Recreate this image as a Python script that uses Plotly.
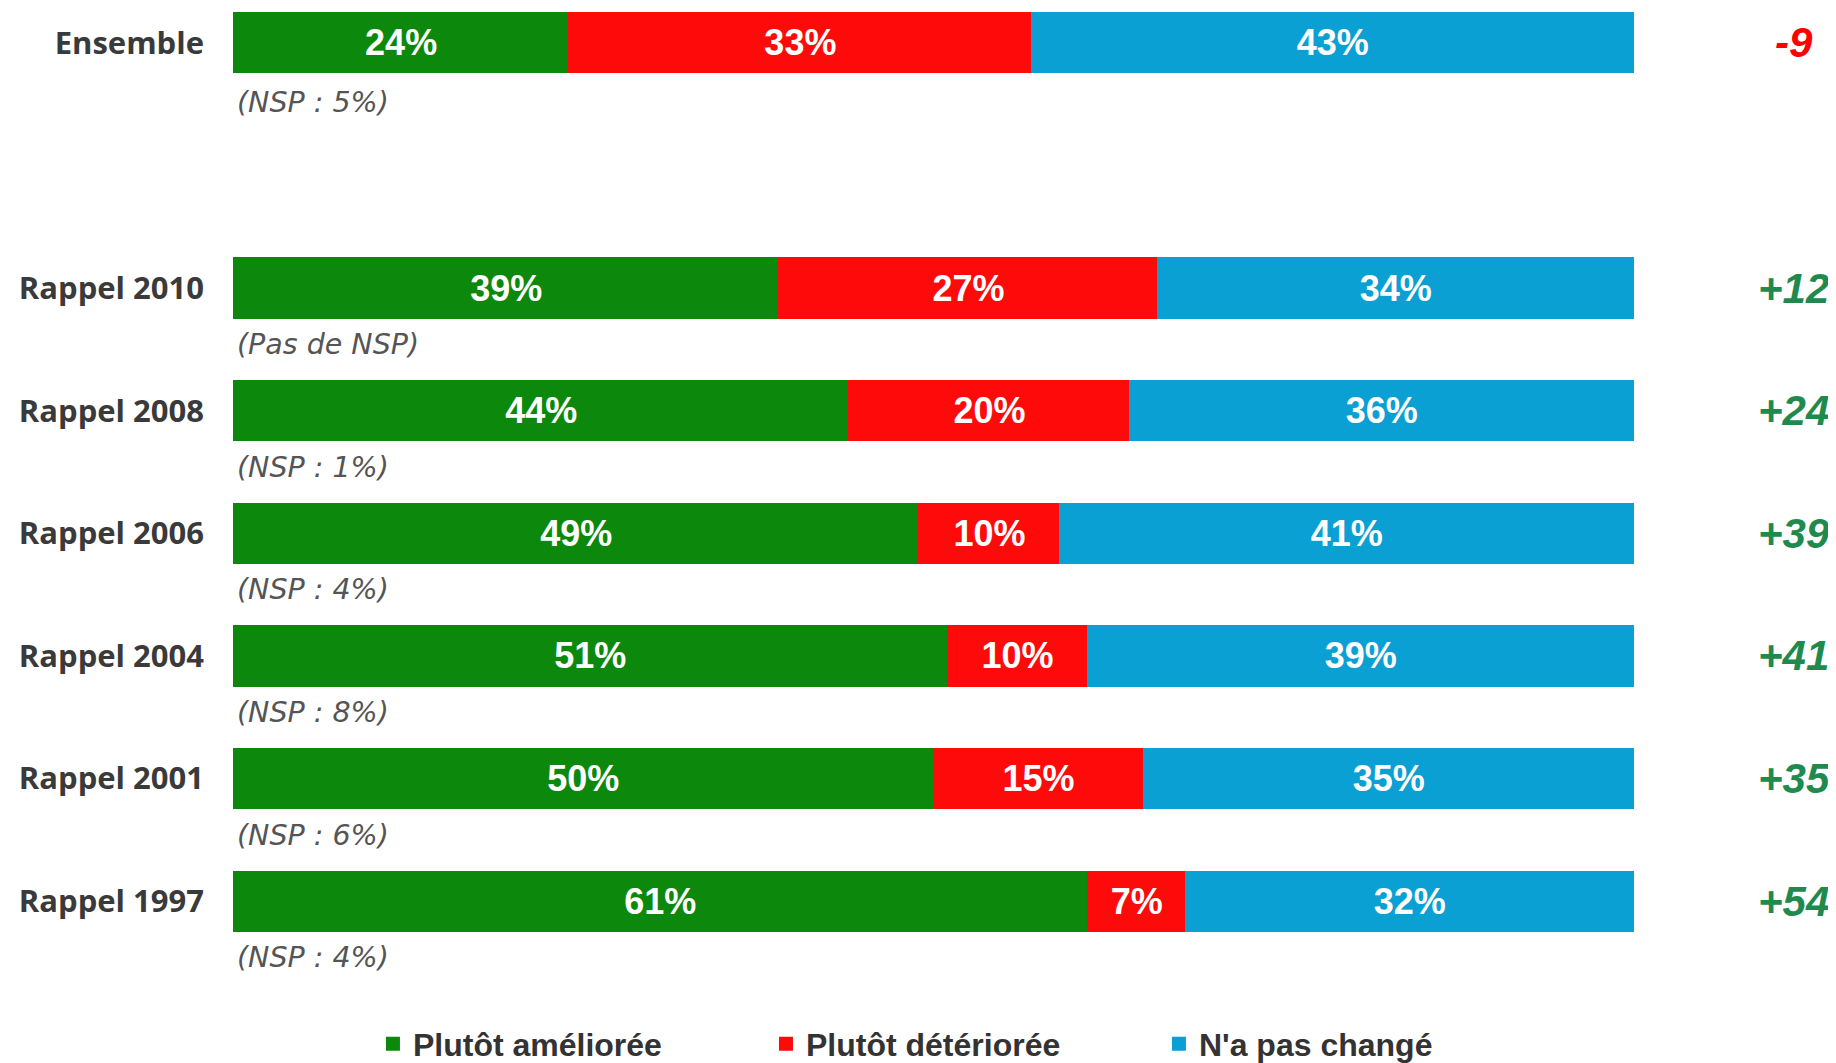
import plotly.graph_objects as go

rows = ["Ensemble", "Rappel 2010", "Rappel 2008", "Rappel 2006", "Rappel 2004", "Rappel 2001", "Rappel 1997"]
ameliore = [24, 39, 44, 49, 51, 50, 61]
deteriore = [33, 27, 20, 10, 10, 15, 7]
inchange = [43, 34, 36, 41, 39, 35, 32]
nsp_notes = ["(NSP : 5%)", "(Pas de NSP)", "(NSP : 1%)", "(NSP : 4%)", "(NSP : 8%)", "(NSP : 6%)", "(NSP : 4%)"]
series_names = ["Plutôt améliorée", "Plutôt détériorée", "N'a pas changé"]
series_colors = ["#0c880c", "#ff0a0a", "#0ba0d4"]

# Ensemble on first row, one blank row, then the "Rappel" rows
ypos = [0] + [i + 1 for i in range(1, len(rows))]

fig = go.Figure()
for name, vals, col in zip(series_names, [ameliore, deteriore, inchange], series_colors):
    fig.add_trace(go.Bar(
        name=name, y=ypos, x=vals, orientation="h", width=0.485,
        marker=dict(color=col, line=dict(width=2, color=col)),
        texttemplate="%{x}%", textposition="inside", insidetextanchor="middle",
        constraintext="none", textangle=0,
        textfont=dict(family="Liberation Sans, Arial, sans-serif", size=36, color="white", weight="bold"),
        hoverinfo="skip",
    ))

annotations = []
for y, note in zip(ypos, nsp_notes):
    annotations.append(dict(
        x=0, y=y + (0.49 if y == 0 else 0.46), xref="x", yref="y", text=note, showarrow=False,
        xanchor="left", yanchor="middle", xshift=2,
        font=dict(family="DejaVu Sans, sans-serif", size=28.5, color="#555555", style="italic"),
    ))

for y, a, d in zip(ypos, ameliore, deteriore):
    diff = a - d
    annotations.append(dict(
        x=1.1142, y=y, xref="paper", yref="y", text=f"{diff:+d}", showarrow=False,
        xanchor="center", yanchor="middle",
        font=dict(family="Liberation Sans, Arial, sans-serif", size=42,
                  color="#ff0000" if diff < 0 else "#1f8a4d", style="italic", weight="bold"),
    ))

fig.update_layout(
    width=1828, height=1055,
    barmode="stack",
    plot_bgcolor="white", paper_bgcolor="white",
    margin=dict(l=225, r=202, t=0, b=83, autoexpand=False),
    xaxis=dict(range=[0, 100], visible=False, fixedrange=True),
    yaxis=dict(
        range=[7.642, -0.283], tickvals=ypos, ticktext=rows,
        showgrid=False, zeroline=False, showline=False, ticks="",
        ticklabelstandoff=28,
        tickfont=dict(family="Open Sans, sans-serif", size=31, color="#3a3a3a", weight="bold"),
    ),
    legend=dict(
        orientation="h", x=0.0999, xanchor="left", y=-0.0658, yanchor="middle",
        entrywidth=348, traceorder="normal",
        font=dict(family="Liberation Sans, Arial, sans-serif", size=32, color="#333333", weight="bold"),
    ),
    annotations=annotations,
    showlegend=True,
)

fig.write_html("out.html")
